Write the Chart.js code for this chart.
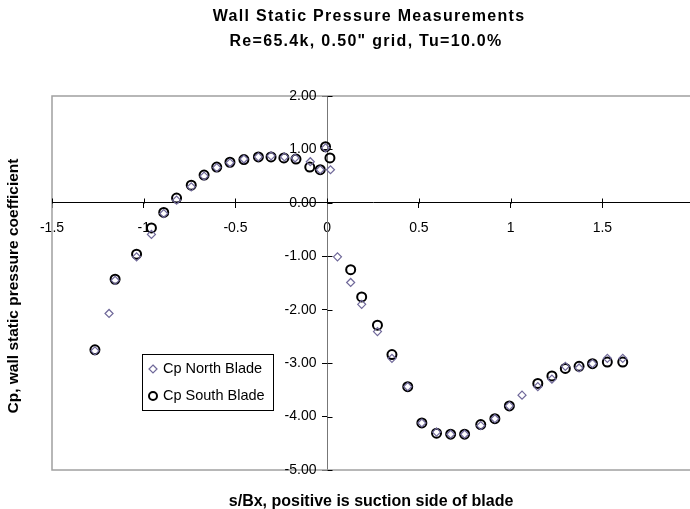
<!DOCTYPE html>
<html>
<head>
<meta charset="utf-8">
<script src="https://cdn.jsdelivr.net/npm/chart.js@4/dist/chart.umd.min.js"></script>
<style>
  html, body { margin: 0; padding: 0; background: #fff; overflow: hidden; }
  #wrap { width: 710px; height: 509px; }
</style>
</head>
<body>
<div id="wrap"><canvas id="myChart" width="710" height="509"></canvas></div>
<script>
// s/Bx and Cp
const northX = [-1.266, -1.189, -1.156, -1.039, -0.958, -0.891, -0.821, -0.741, -0.671, -0.602,
  -0.530, -0.454, -0.375, -0.306, -0.233, -0.175, -0.092, -0.038, -0.009, 0.018,
  0.056, 0.128, 0.188, 0.274, 0.353, 0.439, 0.516, 0.596, 0.673, 0.749,
  0.837, 0.914, 0.993, 1.062, 1.148, 1.225, 1.298, 1.373, 1.446, 1.527, 1.611];
const northCp = [-2.77, -2.07, -1.45, -1.01, -0.59, -0.20, 0.05, 0.30, 0.50, 0.66,
  0.75, 0.82, 0.86, 0.88, 0.86, 0.84, 0.77, 0.62, 1.03, 0.62,
  -1.01, -1.49, -1.90, -2.41, -2.91, -3.44, -4.12, -4.29, -4.33, -4.33,
  -4.17, -4.04, -3.80, -3.60, -3.44, -3.30, -3.06, -3.09, -3.01, -2.91, -2.91];

const southX = [-1.266, -1.156, -1.039, -0.958, -0.891, -0.821, -0.741, -0.671, -0.602, -0.530,
  -0.454, -0.375, -0.306, -0.236, -0.170, -0.095, -0.038, -0.009, 0.015, 0.128,
  0.188, 0.274, 0.353, 0.439, 0.516, 0.596, 0.673, 0.749, 0.837, 0.914,
  0.993, 1.148, 1.225, 1.298, 1.373, 1.446, 1.527, 1.611];
const southCp = [-2.75, -1.43, -0.96, -0.47, -0.18, 0.09, 0.33, 0.52, 0.67, 0.76,
  0.81, 0.86, 0.86, 0.84, 0.82, 0.67, 0.62, 1.05, 0.84, -1.25,
  -1.76, -2.29, -2.84, -3.44, -4.12, -4.31, -4.33, -4.33, -4.15, -4.04,
  -3.80, -3.38, -3.24, -3.10, -3.06, -3.01, -2.98, -2.98];

const titleLines = ['Wall Static Pressure Measurements', 'Re=65.4k, 0.50" grid, Tu=10.0%'];
const xTitle = 's/Bx, positive is suction side of blade';
const yTitle = 'Cp, wall static pressure coefficient';

const FONT = '"Liberation Sans", Arial, sans-serif';
const NORTH = '#6f6899';

function toPoints(xs, ys) {
  return xs.map((x, i) => ({ x: x, y: ys[i] }));
}

// gray box round the plot, the inner half of the cross ticks, y tick labels
const framePlugin = {
  id: 'frame',
  beforeDatasetsDraw(chart) {
    const { ctx, chartArea: a, scales: { x, y } } = chart;
    ctx.save();
    ctx.strokeStyle = '#a0a0a0';
    ctx.lineWidth = 1.5;
    ctx.strokeRect(a.left, a.top, a.right - a.left, a.bottom - a.top);

    ctx.strokeStyle = '#000';
    ctx.lineWidth = 1;
    const x0 = Math.round(x.getPixelForValue(0)) + 0.5;
    const y0 = Math.round(y.getPixelForValue(0)) + 0.5;
    y.ticks.forEach(t => {
      const py = Math.round(y.getPixelForValue(t.value)) + 0.5;
      ctx.beginPath(); ctx.moveTo(x0, py); ctx.lineTo(x0 + 5, py); ctx.stroke();
    });
    x.ticks.forEach(t => {
      const px = Math.round(x.getPixelForValue(t.value)) + 0.5;
      ctx.beginPath(); ctx.moveTo(px, y0); ctx.lineTo(px, y0 - 5); ctx.stroke();
    });

    ctx.fillStyle = '#000';
    ctx.font = '14px ' + FONT;
    ctx.textAlign = 'right';
    ctx.textBaseline = 'middle';
    y.ticks.forEach(t => {
      ctx.fillText(t.value.toFixed(2), x0 - 11, y.getPixelForValue(t.value));
    });
    ctx.restore();
  }
};

// titles and the boxed legend inside the plot
const labelsPlugin = {
  id: 'labels',
  afterDraw(chart) {
    const { ctx, chartArea: a } = chart;
    const cx = (a.left + a.right) / 2;
    ctx.save();
    ctx.fillStyle = '#000';
    ctx.textAlign = 'center';
    ctx.textBaseline = 'middle';
    ctx.font = 'bold 16px ' + FONT;
    ctx.letterSpacing = '1.3px';
    ctx.fillText(titleLines[0], cx - 4, 16.5);
    ctx.fillText(titleLines[1], cx - 7, 41.5);
    ctx.letterSpacing = '0px';
    ctx.font = 'bold 16px ' + FONT;
    ctx.fillText(xTitle, cx - 2, 501.5);
    ctx.font = 'bold 15.5px ' + FONT;
    ctx.translate(14, (a.top + a.bottom) / 2 + 3);
    ctx.rotate(-Math.PI / 2);
    ctx.fillText(yTitle, 0, 0);
    ctx.restore();

    const lx = a.left + 90, ly = a.bottom - 116, lw = 131, lh = 56;
    ctx.save();
    ctx.fillStyle = '#fff';
    ctx.fillRect(lx, ly, lw, lh);
    ctx.strokeStyle = '#000';
    ctx.lineWidth = 1;
    ctx.strokeRect(lx + 0.5, ly + 0.5, lw, lh);
    ctx.font = '14.5px ' + FONT;
    ctx.textBaseline = 'middle';
    chart.data.datasets.forEach((ds, i) => {
      const cy = ly + 15 + i * 27;
      const mx = lx + 11;
      ctx.strokeStyle = ds.borderColor;
      ctx.lineWidth = ds.borderWidth;
      ctx.beginPath();
      if (ds.pointStyle === 'rectRot') {
        const r = ds.pointRadius;
        ctx.moveTo(mx, cy - r); ctx.lineTo(mx + r, cy); ctx.lineTo(mx, cy + r); ctx.lineTo(mx - r, cy);
        ctx.closePath();
      } else {
        ctx.arc(mx, cy, ds.pointRadius - 0.5, 0, Math.PI * 2);
      }
      ctx.stroke();
      ctx.fillStyle = '#000';
      ctx.fillText(ds.label, lx + 21, cy);
    });
    ctx.restore();
  }
};

const ctx = document.getElementById('myChart');
const myChart = new Chart(ctx, {
  type: 'scatter',
  data: {
    datasets: [{
      label: 'Cp North Blade',
      data: toPoints(northX, northCp),
      pointStyle: 'rectRot',
      pointRadius: 4,
      borderWidth: 1.2,
      borderColor: NORTH,
      backgroundColor: 'rgba(0,0,0,0)'
    }, {
      label: 'Cp South Blade',
      data: toPoints(southX, southCp),
      pointStyle: 'circle',
      pointRadius: 4.5,
      borderWidth: 2,
      borderColor: '#000',
      backgroundColor: 'rgba(0,0,0,0)'
    }]
  },
  options: {
    responsive: false,
    animation: false,
    layout: { autoPadding: false, padding: { left: 52, right: 8, top: 96, bottom: 39 } },
    plugins: {
      legend: { display: false },
      tooltip: { enabled: false },
      title: { display: false }
    },
    scales: {
      x: {
        type: 'linear',
        min: -1.5,
        max: 2,
        position: { y: 0 },
        ticks: {
          stepSize: 0.5, color: '#000', font: { family: FONT, size: 14 }, padding: 12, maxRotation: 0,
          callback: v => String(v)
        },
        grid: { drawOnChartArea: false, tickLength: 5, color: '#000' },
        border: { color: '#000', width: 1 }
      },
      y: {
        type: 'linear',
        min: -5,
        max: 2,
        position: { x: 0 },
        ticks: { stepSize: 1, display: false },
        grid: { drawOnChartArea: false, tickLength: 5, color: '#000' },
        border: { color: '#777', width: 1 }
      }
    }
  },
  plugins: [framePlugin, labelsPlugin]
});
</script>
</body>
</html>
